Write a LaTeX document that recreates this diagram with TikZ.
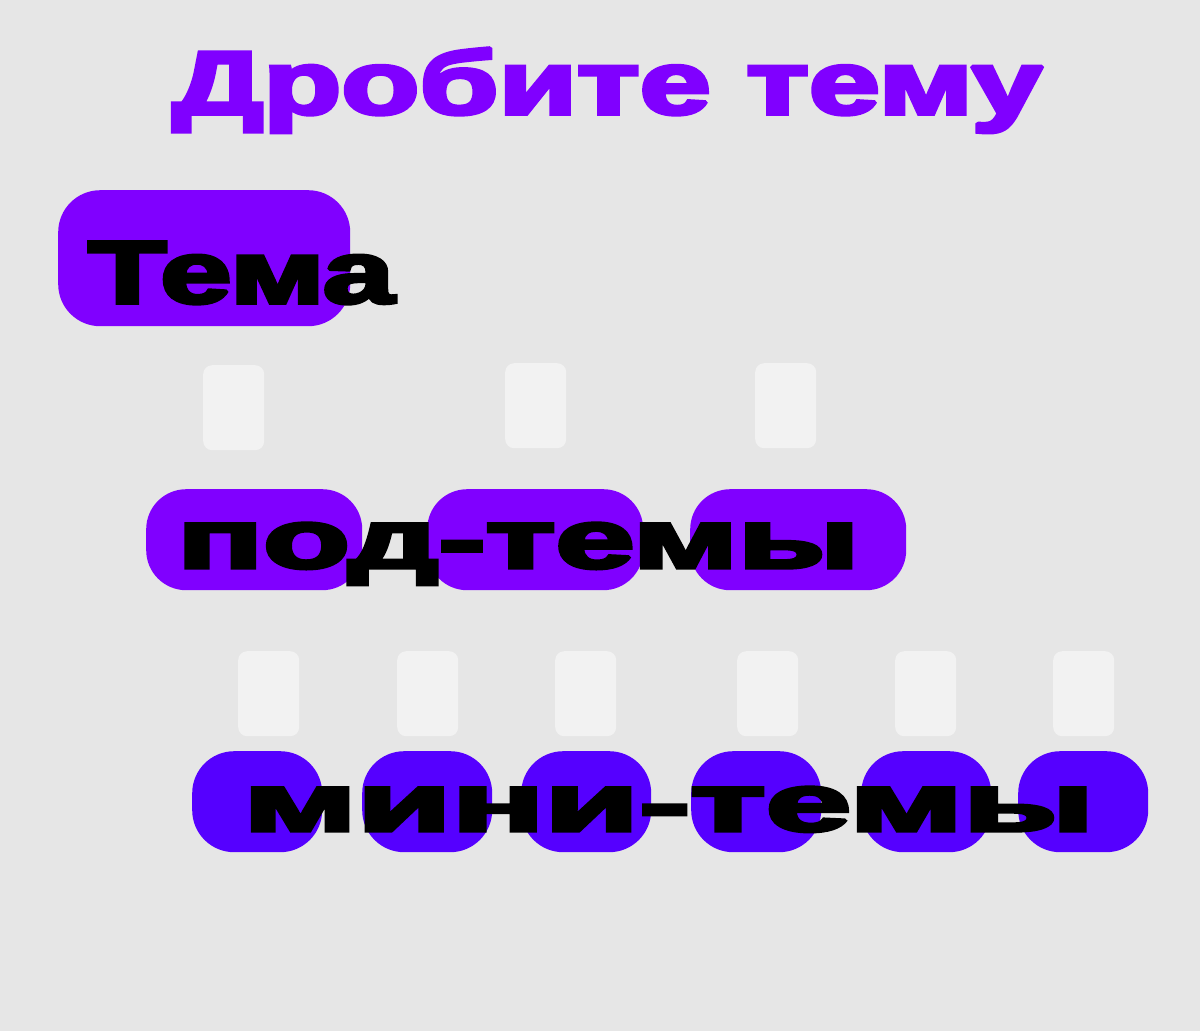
\documentclass[tikz,border=0pt]{standalone}
\usepackage{fontspec}
\newfontfamily\heavy{Liberation Sans Bold}[FakeBold=4]
\definecolor{bg}{HTML}{E6E6E6}
\definecolor{vio}{HTML}{8000FF}
\definecolor{blu}{HTML}{5500FF}
\definecolor{pale}{HTML}{F2F2F2}
\newcommand\stretchto[3]{\special{pdf:code 0 j 0 J 1.5 M}\resizebox{#1pt}{#2pt}{#3}}
\tikzset{
  txt/.style={inner sep=0pt, anchor=base west, font=\heavy\fontsize{92}{92}\selectfont},
  bigbox/.style={fill=vio, draw=none, inner sep=0pt, anchor=north west, rounded corners=42pt},
  subbox/.style={fill=vio, draw=none, inner sep=0pt, anchor=north west, rounded corners=40pt, minimum width=216pt, minimum height=101pt},
  minibox/.style={fill=blu, draw=none, inner sep=0pt, anchor=north west, rounded corners=42pt, minimum width=130pt, minimum height=101pt},
  palebox/.style={fill=pale, draw=none, inner sep=0pt, anchor=north west, rounded corners=9pt, minimum width=61pt, minimum height=85pt}
}
\begin{document}
\begin{tikzpicture}[x=1pt,y=-1pt]
\useasboundingbox[fill=bg] (0,0) rectangle (1200,1031);
% top box
\node[bigbox, minimum width=292pt, minimum height=136pt] (tema) at (58,190) {};
% pale placeholders row 1
\node[palebox] (p1) at (203,365) {};
\node[palebox] (p2) at (505,363) {};
\node[palebox] (p3) at (755,363) {};
% sub boxes
\node[subbox] (s1) at (146,489) {};
\node[subbox] (s2) at (427,489) {};
\node[subbox] (s3) at (690,489) {};
% pale placeholders row 2
\node[palebox] (q1) at (238,651) {};
\node[palebox] (q2) at (397,651) {};
\node[palebox] (q3) at (555,651) {};
\node[palebox] (q4) at (737,651) {};
\node[palebox] (q5) at (895,651) {};
\node[palebox] (q6) at (1053,651) {};
% mini boxes
\node[minibox] (m1) at (192,751) {};
\node[minibox] (m2) at (362,751) {};
\node[minibox] (m3) at (521,751) {};
\node[minibox] (m4) at (691,751) {};
\node[minibox] (m5) at (861,751) {};
\node[minibox] (m6) at (1018,751) {};
% texts
\node[txt, text=vio] (title) at (172,114) {\stretchto{870}{66}{Дробите тему}};
\node[txt, text=black] (tematxt) at (88,303) {\stretchto{306}{61}{Тема}};
\node[txt, text=black] (subtxt) at (177,568) {\stretchto{682}{45}{под-темы}};
\node[txt, text=black] (minitxt) at (243,831) {\stretchto{851}{44}{мини-темы}};
\end{tikzpicture}
\end{document}
